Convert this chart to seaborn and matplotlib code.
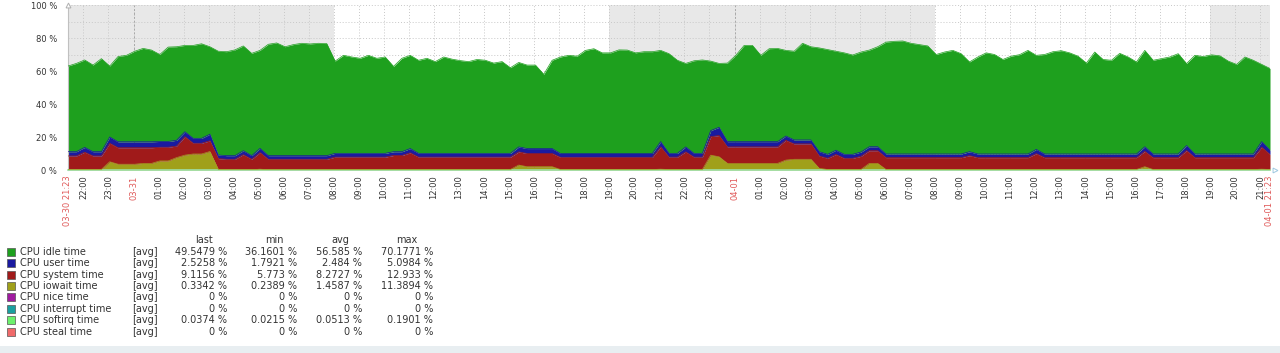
import matplotlib
matplotlib.use("Agg")
import matplotlib.pyplot as plt
from matplotlib.patches import Rectangle
import numpy as np
import pandas as pd
import seaborn as sns

# samples every 20 minutes, 03-30 21:23 -> 04-01 21:23 (145 points)
start = pd.Timestamp("2017-03-30 21:23")
end = pd.Timestamp("2017-04-01 21:23")

idle = [
    51.9, 53.5, 53.0, 52.5, 56.4, 43.0, 51.7, 52.4, 54.9, 56.6, 55.6, 52.7,
    57.2, 56.7, 52.3, 56.3, 57.3, 53.0, 62.9, 63.0, 64.1, 63.5, 62.0, 59.4,
    67.5, 68.3, 66.0, 67.3, 68.1, 67.7, 68.1, 67.9, 55.9, 59.4, 58.4, 57.6,
    59.4, 57.6, 58.4, 51.7, 56.6, 56.5, 56.4, 57.6, 55.6, 58.4, 57.1, 56.2,
    55.6, 56.9, 56.4, 54.7, 55.6, 51.9, 51.2, 50.6, 50.6, 45.0, 53.5, 58.5,
    59.5, 59.0, 62.5, 63.5, 61.0, 61.0, 62.8, 62.7, 61.0, 61.7, 61.7, 55.3,
    60.4, 56.4, 50.6, 56.1, 56.6, 42.1, 38.7, 47.6, 52.3, 58.3, 58.3, 52.3,
    56.3, 56.5, 51.9, 53.8, 58.6, 56.5, 62.9, 63.5, 60.0, 61.5, 60.2, 60.6,
    58.6, 60.6, 67.8, 68.3, 68.5, 67.1, 66.3, 65.5, 60.3, 61.8, 62.8, 60.8,
    54.4, 58.8, 61.3, 60.3, 57.3, 59.3, 60.2, 62.8, 57.0, 60.3, 62.0, 62.6,
    61.3, 59.3, 55.1, 61.8, 57.3, 56.8, 61.0, 58.8, 55.8, 58.4, 56.8, 57.8,
    58.8, 60.8, 49.7, 59.8, 59.1, 60.1, 59.5, 56.3, 54.3, 58.8, 56.8, 46.8,
    49.55,
]
user = [
    2.6, 2.6, 2.9, 2.6, 2.6, 3.8, 3.6, 3.6, 3.6, 3.6, 3.6, 3.5,
    3.5, 3.5, 3.0, 3.0, 3.0, 4.0, 2.2, 2.2, 2.2, 2.4, 2.2, 2.5,
    2.2, 2.2, 2.2, 2.2, 2.2, 2.2, 2.2, 2.2, 2.3, 2.3, 2.3, 2.3,
    2.3, 2.3, 2.3, 2.3, 2.3, 2.6, 2.3, 2.3, 2.3, 2.3, 2.3, 2.3,
    2.3, 2.3, 2.3, 2.3, 2.3, 2.3, 3.0, 3.0, 3.0, 3.0, 3.0, 2.3,
    2.3, 2.3, 2.3, 2.3, 2.3, 2.3, 2.3, 2.3, 2.3, 2.3, 2.3, 3.2,
    2.3, 2.3, 3.0, 2.3, 2.3, 3.7, 5.0, 3.2, 3.2, 3.2, 3.2, 3.2,
    3.2, 3.2, 2.6, 2.4, 2.4, 2.4, 2.6, 2.4, 2.6, 2.4, 2.4, 2.6,
    2.4, 2.4, 2.2, 2.2, 2.2, 2.2, 2.2, 2.2, 2.2, 2.2, 2.2, 2.2,
    2.4, 2.2, 2.2, 2.2, 2.2, 2.2, 2.2, 2.2, 2.6, 2.2, 2.2, 2.2,
    2.2, 2.2, 2.2, 2.2, 2.2, 2.2, 2.2, 2.2, 2.2, 2.8, 2.2, 2.2,
    2.2, 2.2, 3.0, 2.2, 2.2, 2.2, 2.2, 2.2, 2.2, 2.2, 2.2, 3.4,
    2.53,
]
system = [
    8.2, 8.2, 10.5, 8.2, 8.2, 11.2, 10.0, 10.0, 10.0, 9.5, 9.5, 8.3,
    8.3, 7.0, 11.2, 6.5, 6.5, 6.5, 6.5, 6.3, 6.3, 9.1, 6.3, 10.1,
    6.3, 6.3, 6.3, 6.3, 6.3, 6.3, 6.3, 6.3, 7.5, 7.5, 7.5, 7.5,
    7.5, 7.5, 7.5, 8.5, 8.5, 10.1, 7.5, 7.5, 7.5, 7.5, 7.5, 7.5,
    7.5, 7.5, 7.5, 7.5, 7.5, 7.5, 8.0, 8.0, 8.0, 8.0, 8.0, 7.4,
    7.4, 7.4, 7.4, 7.4, 7.4, 7.4, 7.4, 7.4, 7.4, 7.4, 7.4, 13.5,
    7.5, 7.5, 10.7, 7.5, 7.5, 11.2, 12.9, 10.0, 10.0, 10.0, 10.0, 10.0,
    10.0, 10.0, 12.0, 9.3, 9.3, 9.3, 7.5, 6.8, 9.1, 6.8, 6.8, 8.0,
    7.7, 7.7, 7.2, 7.2, 7.2, 7.2, 7.2, 7.2, 7.2, 7.2, 7.2, 7.2,
    8.4, 7.2, 7.2, 7.2, 7.2, 7.2, 7.2, 7.2, 9.6, 7.2, 7.2, 7.2,
    7.2, 7.2, 7.2, 7.2, 7.2, 7.2, 7.2, 7.2, 7.2, 9.3, 7.2, 7.2,
    7.2, 7.2, 11.5, 7.2, 7.2, 7.2, 7.2, 7.2, 7.2, 7.2, 7.2, 13.3,
    9.12,
]
iowait = [
    0.3, 0.3, 0.3, 0.3, 0.3, 5.0, 3.5, 3.5, 3.5, 4.0, 4.0, 5.5,
    5.5, 7.5, 9.0, 9.7, 9.7, 11.2, 0.4, 0.2, 0.2, 0.2, 0.2, 0.5,
    0.2, 0.2, 0.2, 0.2, 0.2, 0.2, 0.2, 0.2, 0.3, 0.3, 0.3, 0.3,
    0.3, 0.3, 0.3, 0.3, 0.3, 0.3, 0.3, 0.3, 0.3, 0.3, 0.3, 0.3,
    0.3, 0.3, 0.3, 0.3, 0.3, 0.3, 3.0, 2.0, 2.0, 2.0, 2.0, 0.3,
    0.3, 0.3, 0.3, 0.3, 0.3, 0.3, 0.3, 0.3, 0.3, 0.3, 0.3, 0.5,
    0.3, 0.3, 0.3, 0.3, 0.3, 9.0, 8.0, 4.0, 4.0, 4.0, 4.0, 4.0,
    4.0, 4.0, 6.0, 6.5, 6.5, 6.5, 1.0, 0.3, 0.3, 0.3, 0.3, 0.3,
    4.0, 4.0, 0.3, 0.3, 0.3, 0.3, 0.3, 0.3, 0.3, 0.3, 0.3, 0.3,
    0.3, 0.3, 0.3, 0.3, 0.3, 0.3, 0.3, 0.3, 0.3, 0.3, 0.3, 0.3,
    0.3, 0.3, 0.3, 0.3, 0.3, 0.3, 0.3, 0.3, 0.3, 2.0, 0.3, 0.3,
    0.3, 0.3, 0.3, 0.3, 0.3, 0.3, 0.3, 0.3, 0.3, 0.3, 0.3, 0.5,
    0.33,
]

# legend table
item_names = ["CPU idle time", "CPU user time", "CPU system time", "CPU iowait time",
              "CPU nice time", "CPU interrupt time", "CPU softirq time", "CPU steal time"]
item_colors = ["#1ea01e", "#1a1aa0", "#a01a1a", "#a0a01a",
               "#a01aa0", "#1a9fa0", "#6cf06c", "#f06a6a"]
stat_last = [49.5479, 2.5258, 9.1156, 0.3342, 0, 0, 0.0374, 0]
stat_min = [36.1601, 1.7921, 5.773, 0.2389, 0, 0, 0.0215, 0]
stat_avg = [56.585, 2.484, 8.2727, 1.4587, 0, 0, 0.0513, 0]
stat_max = [70.1771, 5.0984, 12.933, 11.3894, 0, 0, 0.1901, 0]

night_spans = [(start, pd.Timestamp("2017-03-31 08:00")),
               (pd.Timestamp("2017-03-31 19:00"), pd.Timestamp("2017-04-01 08:00")),
               (pd.Timestamp("2017-04-01 19:00"), end)]

sns.set_style("white")
plt.rcParams["font.family"] = ["DejaVu Sans"]

W, H = 1280, 353
fig = plt.figure(figsize=(W / 100, H / 100), dpi=100)
ax = fig.add_axes([68 / W, 1 - 170 / H, (1270 - 68) / W, 165 / H])

times = pd.date_range(start, end, freq="20min")
data = pd.DataFrame({"time": times, "idle": idle, "user": user,
                     "system": system, "iowait": iowait})

for a, b in night_spans:
    ax.axvspan(a, b, color="#e8e8e8", lw=0, zorder=0)

# stacked areas, bottom to top
base = np.zeros(len(data))
for col, color in [("iowait", item_colors[3]), ("system", item_colors[2]),
                   ("user", item_colors[1]), ("idle", item_colors[0])]:
    top = base + data[col].to_numpy()
    ax.fill_between(data["time"], base, top, color=color, lw=0, zorder=2)
    sns.lineplot(x=data["time"], y=top, ax=ax, color=color, lw=0.5, zorder=3)
    base = top

ax.set_xlim(start, end)
ax.set_ylim(0, 100)

hours = pd.date_range("2017-03-30 22:00", "2017-04-01 21:00", freq="h")
ticks = [start] + list(hours) + [end]
labels, colors = [], []
for t in ticks:
    if t == start or t == end:
        labels.append(t.strftime("%m-%d %H:%M"))
        colors.append("#e05a5a")
    elif t.hour == 0:
        labels.append(t.strftime("%m-%d"))
        colors.append("#e05a5a")
    else:
        labels.append(t.strftime("%H:%M"))
        colors.append("#333333")
ax.set_xticks(ticks)
ax.set_xticklabels(labels, rotation=90, fontsize=6, va="top")
for lab, c in zip(ax.get_xticklabels(), colors):
    lab.set_color(c)
ax.tick_params(axis="x", length=0, pad=4)

ax.set_yticks([0, 20, 40, 60, 80, 100])
ax.set_yticks([10, 30, 50, 70, 90], minor=True)
ax.set_yticklabels([f"{v} %" for v in [0, 20, 40, 60, 80, 100]], fontsize=6, color="#333333")
ax.tick_params(axis="y", which="both", length=0, pad=8)

ax.set_axisbelow(True)
ax.grid(axis="x", which="major", color="#c8c8c8", lw=0.7, ls=(0, (1, 2)))
ax.grid(axis="y", which="both", color="#c8c8c8", lw=0.7, ls=(0, (1, 2)))
for t in hours[hours.hour == 0]:
    ax.axvline(t, color="#a8a8a8", lw=0.7, ls=(0, (2, 2)), zorder=0.6)

for s in ["top", "right"]:
    ax.spines[s].set_visible(False)
ax.spines["left"].set_color("#c0c0c0")
ax.spines["left"].set_linewidth(0.8)
ax.spines["bottom"].set_color("#9ee0a8")
ax.spines["bottom"].set_linewidth(1.2)
ax.set_xlabel("")
ax.set_ylabel("")

# little axis arrows as in the zabbix graph
ax.plot([0], [1.0], marker="^", ms=3.5, mfc="white", mec="#b0b0b0", mew=0.7,
        transform=ax.transAxes, clip_on=False, zorder=5)
ax.plot([1.004], [0], marker=">", ms=3.5, mfc="white", mec="#9ec8e0", mew=0.7,
        transform=ax.transAxes, clip_on=False, zorder=5)

# legend / statistics table
def fx(px):
    return px / W

def fy(py):
    return 1 - py / H

txt = "#333333"
fig.text(fx(204), fy(240), "last", ha="center", va="center", fontsize=7, color=txt)
fig.text(fx(274), fy(240), "min", ha="center", va="center", fontsize=7, color=txt)
fig.text(fx(340), fy(240), "avg", ha="center", va="center", fontsize=7, color=txt)
fig.text(fx(407), fy(240), "max", ha="center", va="center", fontsize=7, color=txt)

for i, name in enumerate(item_names):
    yc = 251.7 + i * 11.43
    fig.patches.append(Rectangle((fx(6.5), fy(yc + 4)), 8 / W, 8 / H,
                                 transform=fig.transFigure, facecolor=item_colors[i],
                                 edgecolor="#555555", lw=0.5))
    fig.text(fx(20), fy(yc), name, ha="left", va="center", fontsize=7, color=txt)
    fig.text(fx(132), fy(yc), "[avg]", ha="left", va="center", fontsize=7, color=txt)
    for xr, vals in [(227, stat_last), (297, stat_min), (362, stat_avg), (433, stat_max)]:
        fig.text(fx(xr), fy(yc), f"{vals[i]:g} %", ha="right", va="center",
                 fontsize=7, color=txt)

fig.patches.append(Rectangle((0, 0), 1, 7 / H, transform=fig.transFigure,
                             facecolor="#e8eef1", edgecolor="none"))

fig.savefig("out.png", dpi=100)
